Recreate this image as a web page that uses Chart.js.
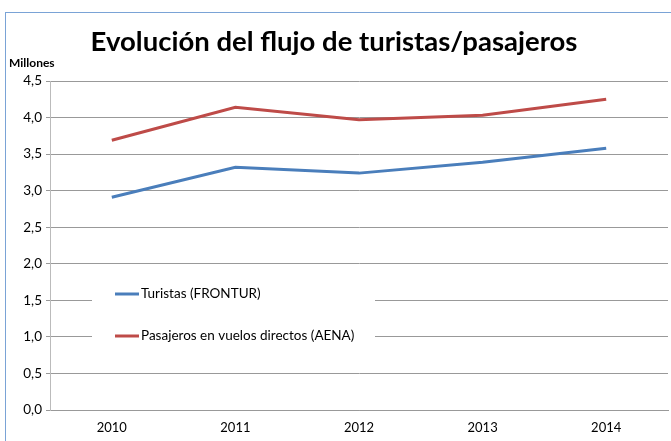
<!DOCTYPE html>
<html>
<head>
<meta charset="utf-8">
<script src="https://cdn.jsdelivr.net/npm/chart.js@4"></script>
<style>
    body { margin: 0; background: #fff; }
    #wrap { position: relative; width: 671px; height: 441px; }
    #frame { position: absolute; left: 5px; top: 12px; width: 700px; height: 460px; border: 1px solid #7aa3d6; box-sizing: border-box; }
    canvas { position: absolute; left: 0; top: 0; }
</style>
</head>
<body>
<div id="wrap">
    <div id="frame"></div>
    <canvas id="myChartLine" width="671" height="441"></canvas>
</div>
<script>
var years = ["2010", "2011", "2012", "2013", "2014"];
var turistas = [2.91, 3.32, 3.24, 3.39, 3.58];
var pasajeros = [3.69, 4.14, 3.97, 4.03, 4.25];
var seriesNames = ["Turistas (FRONTUR)", "Pasajeros en vuelos directos (AENA)"];
var colors = ["#4a7ebb", "#be4b48"];

// legend drawn inside the plot, on a white box like the original
var innerLegend = {
    id: "innerLegend",
    afterDraw: function (chart) {
        var ctx = chart.ctx;
        ctx.save();
        ctx.fillStyle = "#fff";
        ctx.fillRect(92, 276, 283, 78);
        ctx.font = "13.5px Lato";
        ctx.textBaseline = "middle";
        chart.data.datasets.forEach(function (ds, i) {
            var y = 294 + i * 42;
            ctx.strokeStyle = ds.borderColor;
            ctx.lineWidth = 3;
            ctx.beginPath();
            ctx.moveTo(115, y);
            ctx.lineTo(139, y);
            ctx.stroke();
            ctx.fillStyle = "#000";
            ctx.fillText(ds.label, 141, y);
        });
        ctx.font = "bold 12px Lato";
        ctx.fillText("Millones", 9, 63);
        ctx.restore();
    },
};

var ctx = document.getElementById("myChartLine");
var myLineChart = new Chart(ctx, {
    type: "line",
    data: {
        labels: years,
        datasets: [
            {
                label: seriesNames[0],
                data: turistas,
                borderColor: colors[0],
                backgroundColor: colors[0],
                borderWidth: 3,
                pointRadius: 0,
                tension: 0,
            },
            {
                label: seriesNames[1],
                data: pasajeros,
                borderColor: colors[1],
                backgroundColor: colors[1],
                borderWidth: 3,
                pointRadius: 0,
                tension: 0,
            },
        ],
    },
    options: {
        responsive: false,
        animation: false,
        layout: { padding: { left: 0, right: 3, top: 0, bottom: 0 } },
        plugins: {
            legend: { display: false },
            tooltip: { enabled: false },
            title: {
                display: true,
                text: "Evolución del flujo de turistas/pasajeros",
                color: "#000",
                font: { family: "Lato", size: 27.5, weight: "bold" },
                padding: { top: 26, bottom: 22 },
            },
        },
        scales: {
            x: {
                offset: true,
                grid: { display: false, drawTicks: false },
                border: { color: "#999" },
                ticks: { color: "#000", font: { family: "Lato", size: 13 }, padding: 10 },
                afterFit: function (s) { s.height = 31; },
            },
            y: {
                min: 0,
                max: 4.5,
                grid: { color: "#999", tickLength: 4 },
                border: { color: "#bbb" },
                ticks: {
                    stepSize: 0.5,
                    color: "#000",
                    font: { family: "Lato", size: 13.5 },
                    padding: 4,
                    callback: function (v) { return v.toFixed(1).replace(".", ","); },
                },
                afterFit: function (s) { s.width = 50; },
            },
        },
    },
    plugins: [innerLegend],
});
</script>
</body>
</html>
